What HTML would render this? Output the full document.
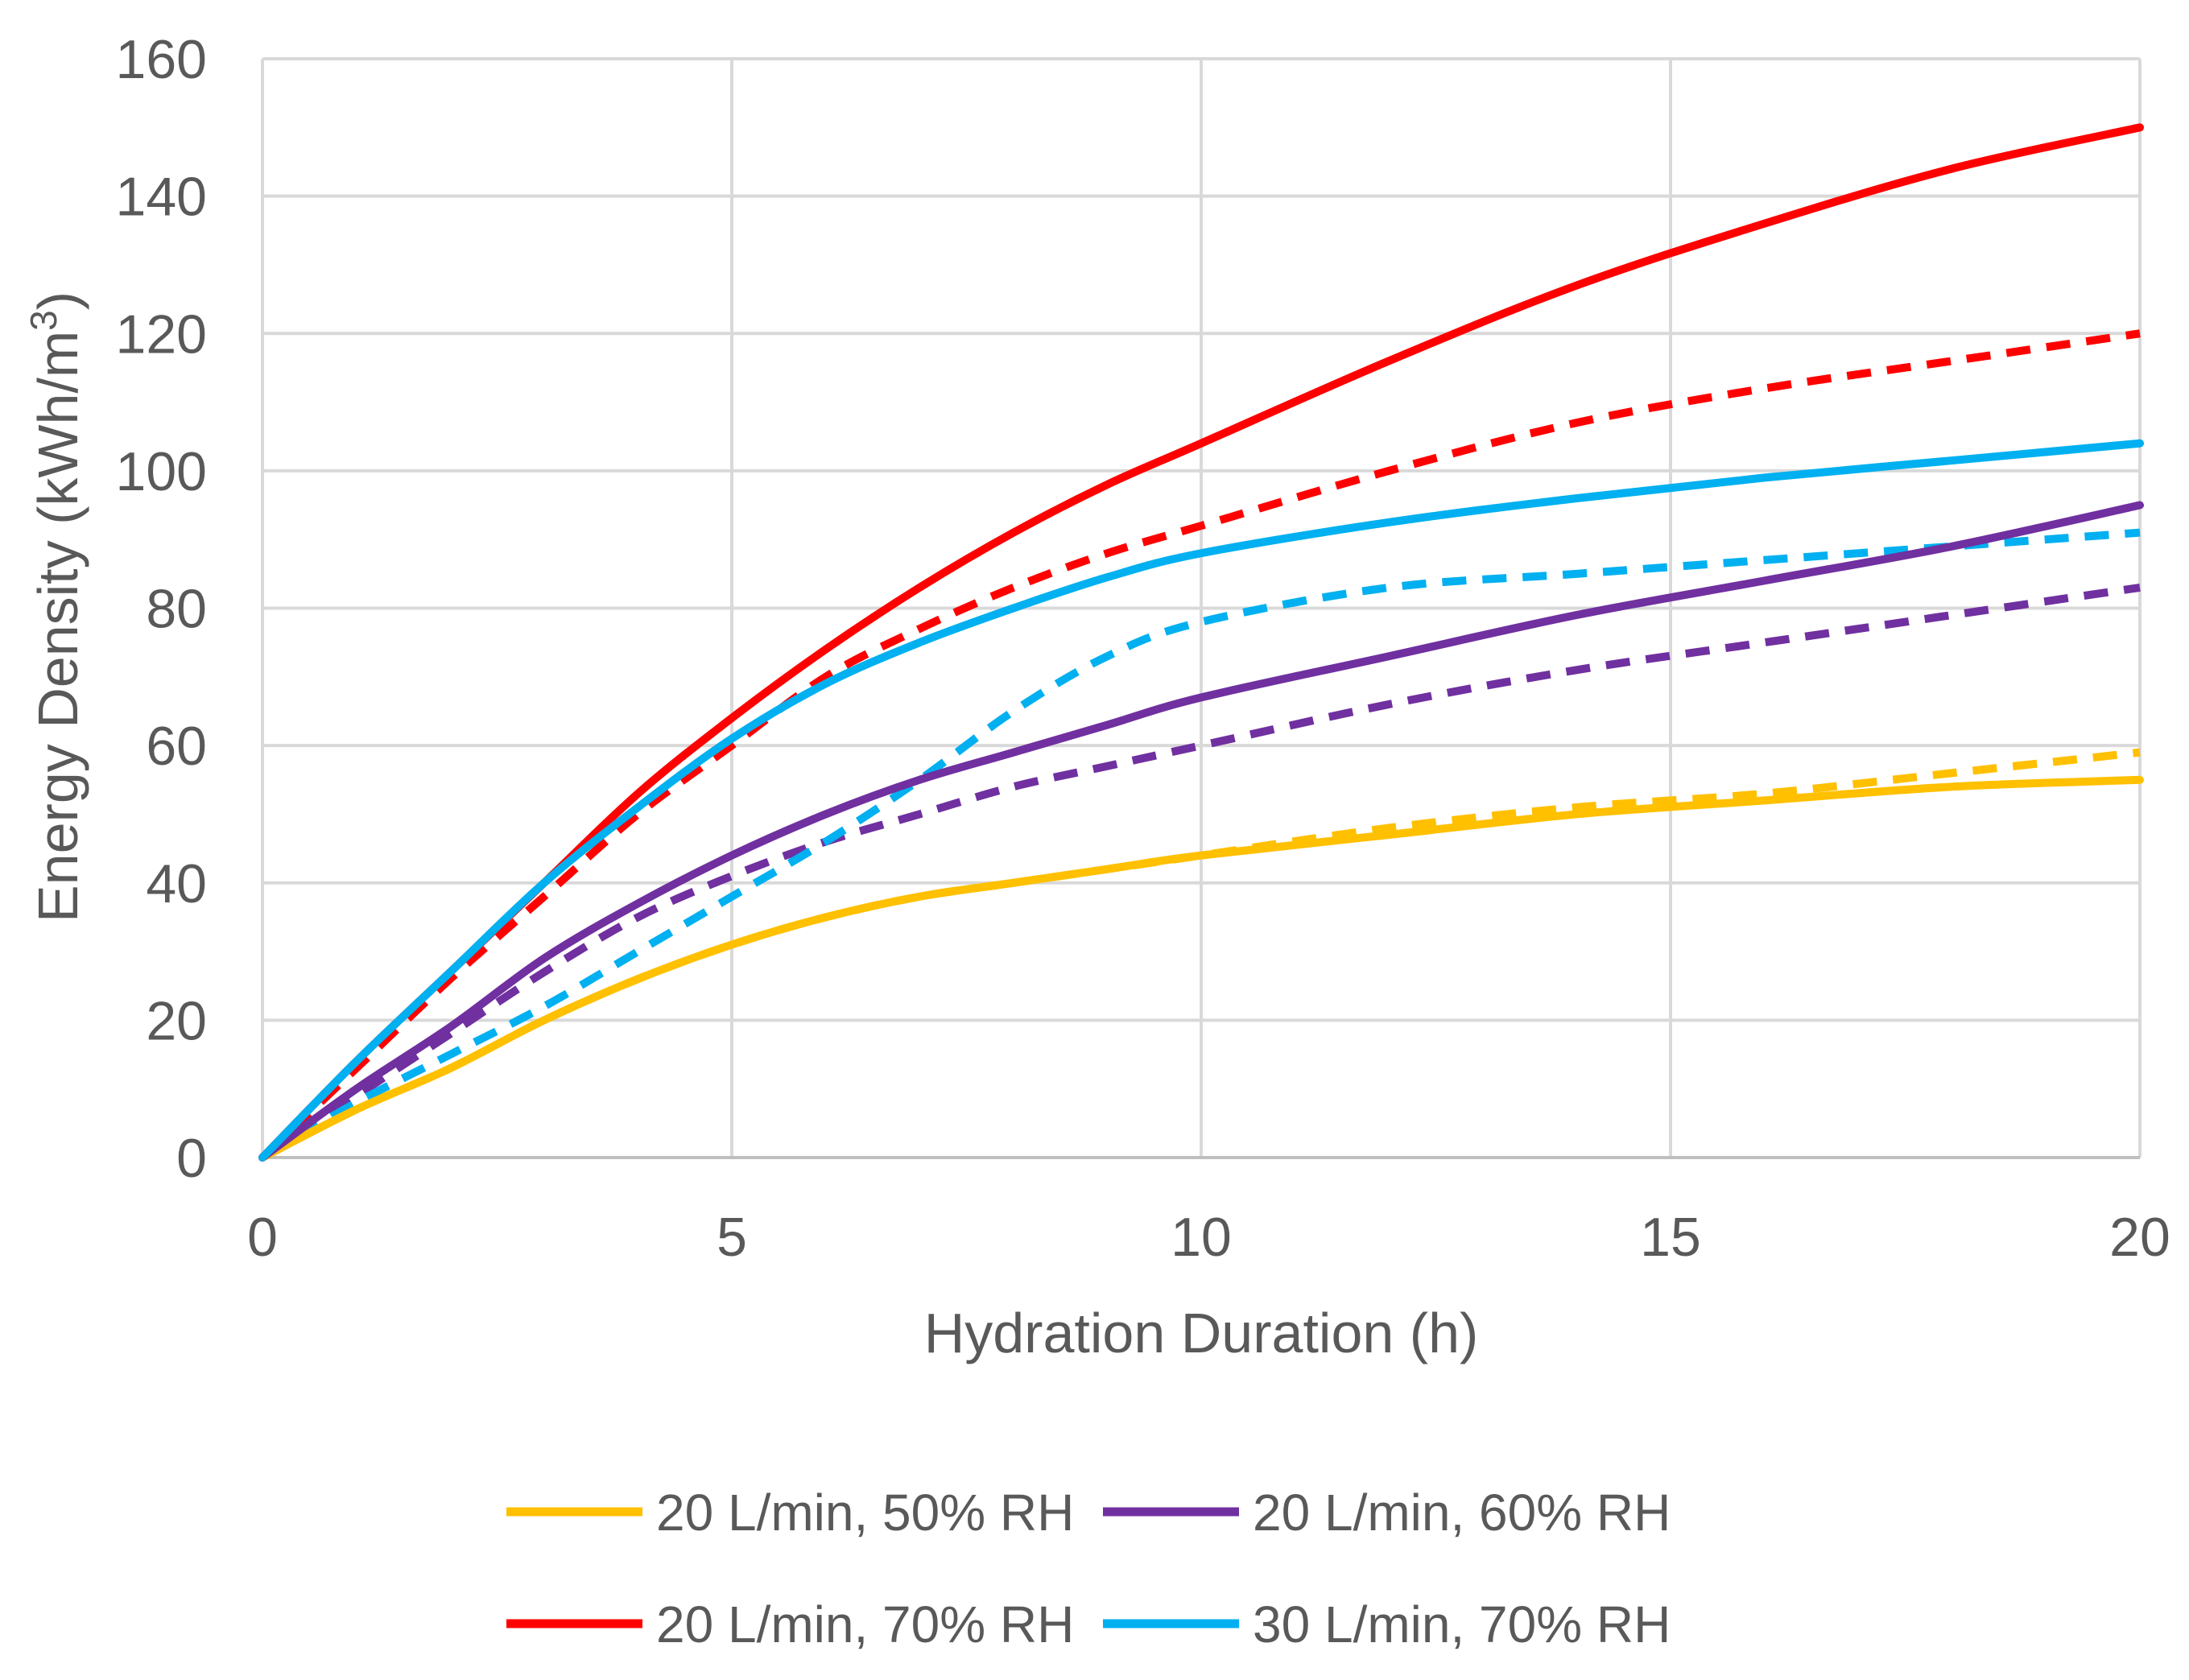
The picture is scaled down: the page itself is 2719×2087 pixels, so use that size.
<!DOCTYPE html>
<html><head><meta charset="utf-8"><style>
html,body{margin:0;padding:0;background:#fff;}
svg text{font-family:"Liberation Sans",sans-serif;fill:#595959;}
</style></head><body>
<svg id="chart" width="2719" height="2082" viewBox="0 0 2719 2082" xmlns="http://www.w3.org/2000/svg">
<rect width="2719" height="2082" fill="#fff"/>
<g id="grid"></g><g id="series"></g><g id="labels"></g><g id="legend"></g>
</svg>
<script>
const xs = [0,1,2,3,4,5,6,7,8,9,10,12,14,16,18,20];
const red70 = [0,14,27,40,53,64,74,83,91,98,104,116,127,136,144,150];
const red70d = [0,13,26,38,50,60,70,77,83,88,92,100,107,112,116,120];
const cyan30 = [0,14,27,40,51,61,69,75,80,84.5,88,92.5,96,99,101.5,104];
const cyan30d = [0,8,15,22,30,38,46,55,65,73,78,83,85,87,89,91];
const pur60 = [0,10,19,29,37,44,50,55,59,63,67,73,79,84,89,95];
const pur60d = [0,9,18,27,35,41,46,50,54,57,60,66,71,75,79,83];
const yel50 = [0,7,13,20,26,31,35,38,40,42,44,47,50,52,54,55];
const yel50d = [0,7,13,20,26,31,35,38,40,42,44,48,51,53,56,59];
const xTicks = [0,5,10,15,20];
const yTicks = [0,20,40,60,80,100,120,140,160];
const legendLabels = ["20 L/min, 50% RH","20 L/min, 60% RH","20 L/min, 70% RH","30 L/min, 70% RH"];

const NS="http://www.w3.org/2000/svg";
const X0=326,X1=2658,Y0=1438,Y1=73;
const sx=v=>X0+(v-0)/(20-0)*(X1-X0);
const sy=v=>Y0-(v-0)/(160-0)*(Y0-Y1);
function mk(tag,attrs,parent,txt){const e=document.createElementNS(NS,tag);for(const k in attrs)e.setAttribute(k,attrs[k]);if(txt!==undefined)e.textContent=txt;parent.appendChild(e);return e;}
const grid=document.getElementById('grid'),labels=document.getElementById('labels'),series=document.getElementById('series'),legend=document.getElementById('legend');
yTicks.forEach(t=>{
  const l=mk('line',{x1:X0,x2:X1,y1:sy(t),y2:sy(t),stroke:'#d9d9d9','stroke-width':4},grid);
  
  
  const tx=mk('text',{x:257,y:sy(t)+24,'text-anchor':'end','font-size':68},labels,String(t));
  
  
});
xTicks.forEach(t=>{
  const l=mk('line',{x1:sx(t),x2:sx(t),y1:Y1,y2:Y0,stroke:'#d9d9d9','stroke-width':4},grid);
  
  
  const tx=mk('text',{x:sx(t),y:1560,'text-anchor':'middle','font-size':68},labels,String(t));
  
  
});
const ax=mk('line',{x1:X0,x2:X1,y1:Y0,y2:Y0,stroke:'#bfbfbf','stroke-width':4},grid);


const xt=mk('text',{x:1492,y:1680,'text-anchor':'middle','font-size':70},labels,'Hydration Duration (h)');


const yt=mk('text',{x:0,y:0,'text-anchor':'middle','font-size':70,transform:'translate(96,754) rotate(-90)'},labels);


yt.innerHTML='Energy Density (kWh/m<tspan dy="-26" font-size="46">3</tspan><tspan dy="26">)</tspan>';

function pathD(ys){
  const p=xs.map((x,i)=>[sx(x),sy(ys[i])]);
  let d='M'+p[0][0]+','+p[0][1];
  for(let i=0;i<p.length-1;i++){
    const p0=p[Math.max(0,i-1)],p1=p[i],p2=p[i+1],p3=p[Math.min(p.length-1,i+2)];
    const c1=[p1[0]+(p2[0]-p0[0])/6,p1[1]+(p2[1]-p0[1])/6];
    const c2=[p2[0]-(p3[0]-p1[0])/6,p2[1]-(p3[1]-p1[1])/6];
    d+=' C'+c1[0]+','+c1[1]+' '+c2[0]+','+c2[1]+' '+p2[0]+','+p2[1];
  }
  return d;
}
const defs=[
 [yel50d,'#ffc000',true,'line-yellow-dashed'],[pur60d,'#7030a0',true,'line-purple-dashed'],
 [cyan30d,'#00b0f0',true,'line-cyan-dashed'],[red70d,'#ff0000',true,'line-red-dashed'],
 [yel50,'#ffc000',false,'line-yellow-solid'],[pur60,'#7030a0',false,'line-purple-solid'],
 [red70,'#ff0000',false,'line-red-solid'],[cyan30,'#00b0f0',false,'line-cyan-solid']];
defs.forEach(s=>{
  const a={d:pathD(s[0]),fill:'none',stroke:s[1],'stroke-width':10,'stroke-linecap':'round'};
  if(s[2]){a['stroke-dasharray']='30 20';a['stroke-linecap']='butt';}
  const e=mk('path',a,series);
  
  
});
const legCols=['#ffc000','#7030a0','#ff0000','#00b0f0'];
const legPos=[[629,1878],[1370,1878],[629,2017],[1370,2017]];
legendLabels.forEach((lab,i)=>{
  const [lx,ly]=legPos[i];
  const g=mk('g',{},legend);
  
  
  mk('line',{x1:lx,x2:lx+169,y1:ly,y2:ly,stroke:legCols[i],'stroke-width':11},g);
  mk('text',{x:lx+186,y:ly+23,'font-size':64},g,lab);
});
</script>
</body></html>
